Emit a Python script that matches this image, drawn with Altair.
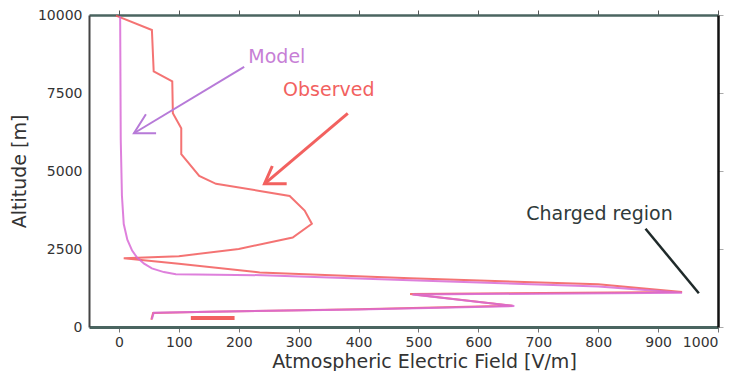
import altair as alt
import pandas as pd

# ---- data ----
obs_field = [-5, 55, 58, 89, 90, 104, 104, 134, 162, 235, 285, 310, 322, 290, 200, 100, 8,
             100, 235, 486, 800, 940, 486, 657, 400, 150, 57, 54]
obs_alt = [9980, 9520, 8190, 7870, 6850, 6370, 5540, 4840, 4590, 4360, 4200, 3730, 3310, 2870, 2500, 2270, 2200,
           2030, 1750, 1560, 1370, 1120, 1060, 680, 570, 490, 450, 230]

model_field = [2, 3, 5, 8, 14, 22, 30, 42, 55, 75, 95, 240, 486, 800, 940, 490, 660, 400, 150, 58, 55]
model_alt = [9950, 6000, 4200, 3300, 2800, 2450, 2230, 2030, 1880, 1760, 1690, 1660, 1500, 1300, 1100,
             1040, 670, 560, 490, 460, 250]

# short thick observed segment near the ground
seg_field = [120, 193]
seg_alt = [290, 290]

# annotation arrows (data units)
model_arrow_field = [209, 25, 62, 25, 45]
model_arrow_alt = [8340, 6210, 6210, 6210, 6820]
model_arrow_part = ["shaft", "shaft", "head", "head", "head"]

obs_arrow_field = [382, 243, 280, 243, 256]
obs_arrow_alt = [6850, 4590, 4590, 4590, 5160]
obs_arrow_part = ["shaft", "shaft", "head", "head", "head"]

charged_field = [879, 968]
charged_alt = [3150, 1080]

labels_text = ["Model", "Observed", "Charged region"]
labels_field = [216, 274, 680]
labels_alt = [8650, 7610, 3630]
labels_color = ["#c77fd6", "#f2615f", "#2f3a3a"]

x_ticks = list(range(0, 1001, 100))
y_ticks = [0, 2500, 5000, 7500, 10000]

# ---- tables ----
lines = pd.DataFrame(
    [{"series": "Observed", "i": i, "field": f, "alt": a} for i, (f, a) in enumerate(zip(obs_field, obs_alt))]
    + [{"series": "Model", "i": i, "field": f, "alt": a} for i, (f, a) in enumerate(zip(model_field, model_alt))]
)
seg = pd.DataFrame({"field": seg_field, "alt": seg_alt})
marrow = pd.DataFrame({"field": model_arrow_field, "alt": model_arrow_alt, "part": model_arrow_part,
                       "i": range(len(model_arrow_field))})
oarrow = pd.DataFrame({"field": obs_arrow_field, "alt": obs_arrow_alt, "part": obs_arrow_part,
                       "i": range(len(obs_arrow_field))})
charged = pd.DataFrame({"field": charged_field, "alt": charged_alt, "i": [0, 1]})
labels = pd.DataFrame({"text": labels_text, "field": labels_field, "alt": labels_alt, "color": labels_color})

xscale = alt.Scale(domain=[-50, 1000], nice=False, zero=False)
yscale = alt.Scale(domain=[0, 10000], nice=False, zero=False)

xaxis = alt.Axis(values=x_ticks, format="d", title="Atmospheric Electric Field [V/m]", grid=False,
                 domainColor="#4a6560", domainWidth=3, tickColor="#777", tickSize=5,
                 labelFont="DejaVu Sans", labelFontSize=14, labelColor="#333", labelPadding=3,
                 titleFont="DejaVu Sans", titleFontSize=19, titleFontWeight="normal", titleColor="#333",
                 titleX=335, titleY=34, titleBaseline="middle", titleAnchor="start", titleAlign="center")
yaxis = alt.Axis(values=y_ticks, format="d", title="Altitude [m]", grid=False,
                 domainColor="#444", domainWidth=2, tickSize=0,
                 labelFont="DejaVu Sans", labelFontSize=14, labelColor="#333", labelPadding=7,
                 titleFont="DejaVu Sans", titleFontSize=19, titleFontWeight="normal", titleColor="#333",
                 titleX=-70, titleBaseline="middle")
xtop = alt.Axis(orient="top", values=x_ticks, labels=False, title=None, grid=False,
                domainColor="#4a6560", domainWidth=2.5, tickColor="#555", tickSize=5)
yright = alt.Axis(orient="right", values=y_ticks, labels=False, title=None, grid=False,
                  domainColor="#111", domainWidth=2.5, tickColor="#aaa", tickSize=5)

X = alt.X("field:Q", scale=xscale, axis=xaxis)
Y = alt.Y("alt:Q", scale=yscale, axis=yaxis)
Xn = alt.X("field:Q", scale=xscale, axis=None)
Yn = alt.Y("alt:Q", scale=yscale, axis=None)

main = alt.Chart(lines).mark_line(strokeWidth=2, opacity=0.85).encode(
    x=X, y=Y, order="i:Q",
    color=alt.Color("series:N", scale=alt.Scale(domain=["Observed", "Model"], range=["#f25a5a", "#d86ad6"]),
                    legend=None),
)

frame = alt.Chart(lines).mark_point(opacity=0).encode(
    x=alt.X("field:Q", scale=xscale, axis=xtop),
    y=alt.Y("alt:Q", scale=yscale, axis=yright),
)

seg_layer = alt.Chart(seg).mark_line(strokeWidth=4, color="#f2615f").encode(x=Xn, y=Yn)

marrow_layer = alt.Chart(marrow).mark_line(strokeWidth=2, color="#b77ad8").encode(
    x=Xn, y=Yn, detail="part:N", order="i:Q")
oarrow_layer = alt.Chart(oarrow).mark_line(strokeWidth=3, color="#f2615f").encode(
    x=Xn, y=Yn, detail="part:N", order="i:Q")
charged_layer = alt.Chart(charged).mark_line(strokeWidth=2.5, color="#1f2a2a").encode(
    x=Xn, y=Yn, order="i:Q")

text_layer = alt.Chart(labels).mark_text(align="left", baseline="middle", font="DejaVu Sans",
                                         fontSize=19).encode(
    x=Xn, y=Yn, text="text:N", color=alt.Color("color:N", scale=None))

chart = alt.layer(main, frame, seg_layer, marrow_layer, oarrow_layer, charged_layer, text_layer).resolve_axis(
    x="independent", y="independent"
).properties(
    width=629, height=312,
    autosize=alt.AutoSizeParams(type="none"),
    padding={"left": 81, "top": 7, "right": 10, "bottom": 44},
    background="white",
).configure_view(stroke=None)

chart.save("out.html", embed_options={"renderer": "svg", "actions": False})
